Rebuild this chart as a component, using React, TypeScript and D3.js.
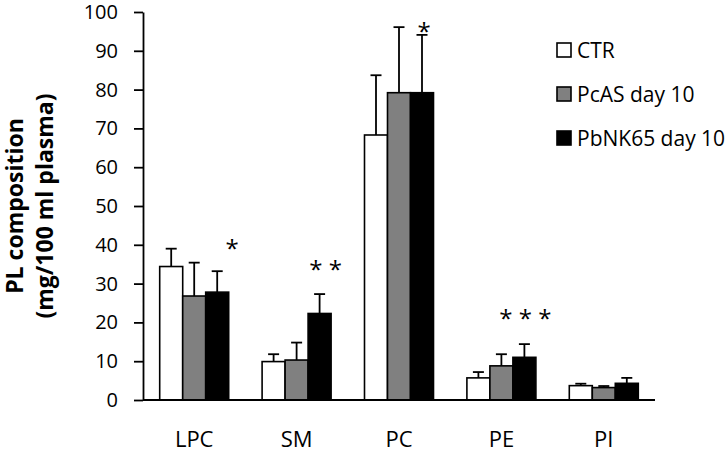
import React, { useEffect, useRef } from 'react';
import * as d3 from 'd3';

const categories = ['LPC', 'SM', 'PC', 'PE', 'PI'];
const seriesNames = ['CTR', 'PcAS day 10', 'PbNK65 day 10'];
const seriesColors = ['#ffffff', '#808080', '#000000'];

// mean values (mg/100 ml plasma)
const ctrValues = [34.4, 9.9, 68.3, 5.7, 3.7];
const pcasValues = [26.8, 10.3, 79.2, 8.8, 3.2];
const pbnkValues = [27.8, 22.3, 79.2, 11.0, 4.3];

// upper error (SD)
const ctrErr = [4.6, 1.9, 15.4, 1.5, 0.5];
const pcasErr = [8.6, 4.5, 16.9, 3.0, 0.4];
const pbnkErr = [5.4, 5.0, 14.9, 3.4, 1.4];

// significance marks above the PbNK65 bars
const sigLabels = ['*', '* *', '*', '* * *', ''];
const sigLevels = [40.6, 35.2, 96.7, 22.6, 0];

const yTicks = [0, 10, 20, 30, 40, 50, 60, 70, 80, 90, 100];

const FONT = '"Open Sans", "Noto Sans", sans-serif';

export default function App() {
  const ref = useRef<SVGSVGElement>(null);

  useEffect(() => {
    const width = 726;
    const height = 454;
    const margin = { top: 12, right: 71, bottom: 54, left: 143 };

    const svg = d3.select(ref.current);
    svg.selectAll('*').remove();

    const values = [ctrValues, pcasValues, pbnkValues];
    const errs = [ctrErr, pcasErr, pbnkErr];

    const x0 = d3.scaleBand().domain(categories).range([margin.left, width - margin.right]);
    const bw = x0.bandwidth();
    const groupW = 69;
    const x1 = d3.scaleBand().domain(seriesNames).range([(bw - groupW) / 2, (bw + groupW) / 2]);
    const y = d3.scaleLinear().domain([0, 100]).range([height - margin.bottom, margin.top]);

    const rows = categories.flatMap((c, i) =>
      seriesNames.map((s, j) => ({ cat: c, series: s, j, value: values[j][i], err: errs[j][i] }))
    );

    // error bars (drawn first, bars cover the lower part)
    const eb = svg.append('g').attr('stroke', '#000').attr('stroke-width', 1.8);
    rows.forEach(d => {
      const cx = (x0(d.cat) as number) + (x1(d.series) as number) + x1.bandwidth() / 2;
      eb.append('line')
        .attr('x1', cx).attr('x2', cx)
        .attr('y1', y(d.value)).attr('y2', y(d.value + d.err));
      eb.append('line')
        .attr('x1', cx - 5.5).attr('x2', cx + 5.5)
        .attr('y1', y(d.value + d.err)).attr('y2', y(d.value + d.err));
    });

    svg.append('g')
      .selectAll('rect')
      .data(rows)
      .join('rect')
        .attr('x', d => (x0(d.cat) as number) + (x1(d.series) as number))
        .attr('y', d => y(d.value))
        .attr('width', x1.bandwidth())
        .attr('height', d => y(0) - y(d.value))
        .attr('fill', d => seriesColors[d.j])
        .attr('stroke', '#000')
        .attr('stroke-width', 1.6);

    // axes
    const yAxis = svg.append('g')
      .attr('transform', `translate(${margin.left},0)`)
      .call(d3.axisLeft(y).tickValues(yTicks).tickSize(9).tickPadding(16).tickSizeOuter(0));
    yAxis.select('.domain').attr('stroke-width', 1.8);
    yAxis.selectAll('.tick line').attr('stroke-width', 1.8);
    yAxis.selectAll('.tick text')
      .attr('font-family', FONT)
      .attr('font-size', 20)
      .attr('fill', '#000');

    svg.append('line')
      .attr('x1', margin.left).attr('x2', width - margin.right)
      .attr('y1', y(0)).attr('y2', y(0))
      .attr('stroke', '#000').attr('stroke-width', 1.8);

    svg.append('g')
      .selectAll('text')
      .data(categories)
      .join('text')
        .attr('x', d => (x0(d) as number) + bw / 2)
        .attr('y', 447)
        .attr('text-anchor', 'middle')
        .attr('font-family', FONT)
        .attr('font-size', 22)
        .text(d => d);

    // significance marks
    const sigDx = [15, 6, 2, 1, 0];
    svg.append('g')
      .selectAll('text')
      .data(categories)
      .join('text')
        .attr('x', (d, i) => (x0(d) as number) + (x1(seriesNames[2]) as number) + x1.bandwidth() / 2 + sigDx[i])
        .attr('y', (d, i) => y(sigLevels[i]))
        .attr('dy', '0.62em')
        .attr('text-anchor', 'middle')
        .attr('font-family', FONT)
        .attr('font-size', 24)
        .text((d, i) => sigLabels[i]);

    // y title
    const title = svg.append('g')
      .attr('font-family', FONT)
      .attr('font-weight', 'bold')
      .attr('font-size', 23)
      .attr('text-anchor', 'middle');
    title.append('text')
      .attr('transform', `translate(23,${(y(0) + y(100)) / 2}) rotate(-90)`)
      .text('PL composition');
    title.append('text')
      .attr('transform', `translate(53,${(y(0) + y(100)) / 2}) rotate(-90)`)
      .text('(mg/100 ml plasma)');

    // legend
    const legend = svg.append('g')
      .selectAll('g')
      .data(seriesNames)
      .join('g')
        .attr('transform', (d, i) => `translate(557,${50 + i * 44})`);
    legend.append('rect')
      .attr('x', 0).attr('y', -7)
      .attr('width', 14).attr('height', 14)
      .attr('fill', (d, i) => seriesColors[i])
      .attr('stroke', '#000')
      .attr('stroke-width', 1.6);
    legend.append('text')
      .attr('x', 20)
      .attr('dy', '0.36em')
      .attr('font-family', FONT)
      .attr('font-size', 21)
      .text(d => d);
  }, []);

  return (
    <svg
      ref={ref}
      width={726}
      height={454}
      style={{ position: 'absolute', left: 0, top: 0, background: '#fff' }}
    />
  );
}
